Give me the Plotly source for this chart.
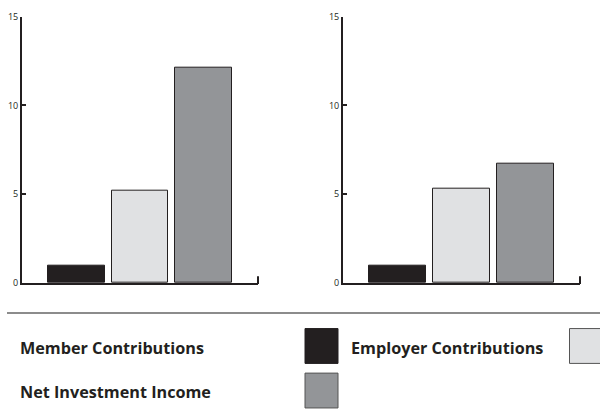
import plotly.graph_objects as go

categories = ["Member Contributions", "Employer Contributions", "Net Investment Income"]
left_values = [1.0, 5.2, 12.1]
right_values = [1.0, 5.3, 6.7]
colors = ["#231f20", "#e0e1e3", "#939598"]
y_ticks = [0, 5, 10, 15]

W, H = 600, 413
INK = "#231f20"

fig = go.Figure()
xs = [0, 1, 2]
fig.add_trace(go.Bar(x=xs, y=left_values, width=0.89, marker=dict(color=colors, line=dict(color=INK, width=1)),
                     xaxis="x", yaxis="y", showlegend=False, hoverinfo="skip"))
fig.add_trace(go.Bar(x=xs, y=right_values, width=0.89, marker=dict(color=colors, line=dict(color=INK, width=1)),
                     xaxis="x2", yaxis="y2", showlegend=False, hoverinfo="skip"))

ydom = [(H - 285) / H, (H - 10) / H]
xaxis_common = dict(range=[-0.86, 2.86], showline=True, linewidth=2, linecolor=INK, showticklabels=False,
                    ticks="", showgrid=False, zeroline=False, fixedrange=True)
yaxis_common = dict(range=[0, 15], tickvals=y_ticks, showline=True, linewidth=2, linecolor=INK,
                    ticks="inside", ticklen=4, tickwidth=2, tickcolor=INK, showgrid=False, zeroline=False,
                    tickfont=dict(size=9, color=INK, family="Open Sans"), domain=ydom, fixedrange=True)

fig.update_layout(
    width=W, height=H, margin=dict(l=0, r=0, t=0, b=0),
    paper_bgcolor="white", plot_bgcolor="white",
    xaxis=dict(domain=[22 / W, 258 / W], anchor="y", **xaxis_common),
    yaxis=dict(anchor="x", **yaxis_common),
    xaxis2=dict(domain=[343 / W, 580 / W], anchor="y2", **xaxis_common),
    yaxis2=dict(anchor="x2", **yaxis_common),
    bargap=0,
)

shapes = []
# small upturned ticks at the right ends of the x axes
for xr, yr in [("x domain", "y domain"), ("x2 domain", "y2 domain")]:
    shapes.append(dict(type="line", xref=xr, yref=yr, x0=1, x1=1, y0=-0.004, y1=7 / 275,
                       line=dict(color=INK, width=2)))
# separator line
shapes.append(dict(type="line", xref="paper", yref="paper", x0=7 / W, x1=1, y0=(H - 316) / H, y1=(H - 316) / H,
                   line=dict(color="#666666", width=1.5)))

def py(p):
    return (H - p) / H

legend_items = [
    (categories[0], 18, 352, 305, 332, colors[0]),
    (categories[1], 349, 352, 569.5, 332, colors[1]),
    (categories[2], 18, 397, 305, 378, colors[2]),
]
annotations = []
for name, tx, ty, bx, by, col in legend_items:
    shapes.append(dict(type="rect", xref="paper", yref="paper", x0=bx / W, x1=(bx + 33) / W,
                       y0=py(by + 36), y1=py(by), fillcolor=col,
                       line=dict(color="#555555" if col != colors[0] else col, width=1)))
    annotations.append(dict(xref="paper", yref="paper", x=tx / W, y=py(ty), text=name, showarrow=False,
                            xanchor="left", yanchor="middle",
                            font=dict(family="Open Sans", size=16.2, color=INK, weight="bold")))

fig.update_layout(shapes=shapes, annotations=annotations)
fig.write_html("out.html", config={"displayModeBar": False},
               post_script="document.body.style.margin='0';")
